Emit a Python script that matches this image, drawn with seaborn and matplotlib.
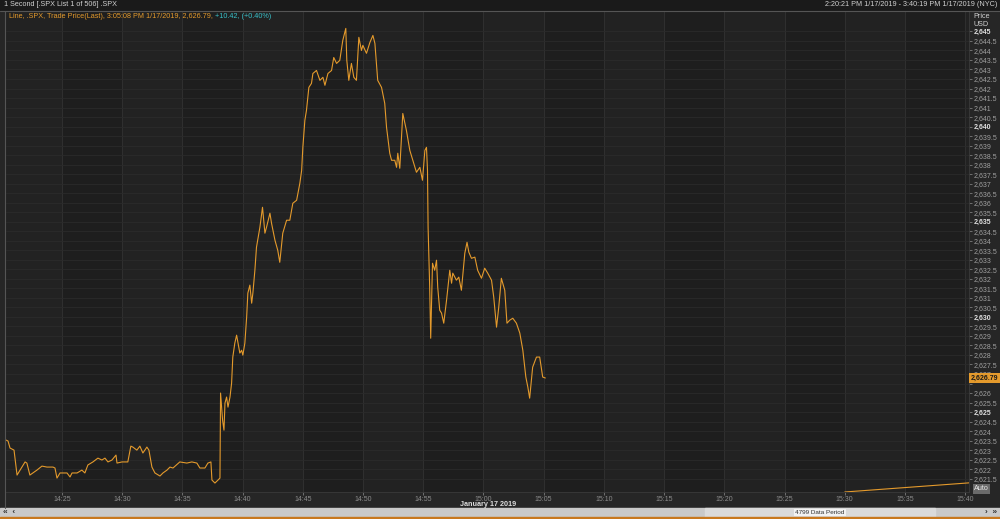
import numpy as np
import pandas as pd
import matplotlib
matplotlib.use("Agg")
import matplotlib.pyplot as plt
import matplotlib.dates as mdates
from matplotlib.patches import Rectangle
from matplotlib.ticker import FixedLocator, FuncFormatter
import seaborn as sns

# .SPX trade price, seconds after 14:20:00 on 1/17/2019
secs = [21, 31, 41, 61, 76, 91, 116, 125, 140, 155, 175, 200, 225, 255, 265, 275, 290, 325, 340, 350,
        375, 399, 414, 429, 454, 479, 499, 514, 529, 549, 569, 574, 599, 628, 643, 653, 673, 688, 703, 723,
        733, 748, 763, 788, 803, 823, 838, 853, 887, 922, 947, 972, 987, 1012, 1027, 1042, 1047, 1062, 1077, 1087,
        1090, 1100, 1107, 1112, 1120, 1127, 1137, 1145, 1151, 1161, 1170, 1186, 1195, 1201, 1211, 1220, 1226, 1236, 1245, 1251,
        1261, 1269, 1286, 1299, 1311, 1319, 1336, 1344, 1361, 1375, 1385, 1400, 1419, 1435, 1450, 1469, 1485, 1494, 1500, 1510,
        1518, 1530, 1543, 1550, 1568, 1585, 1600, 1610, 1625, 1643, 1654, 1668, 1684, 1699, 1714, 1719, 1729, 1742, 1754, 1767,
        1779, 1792, 1799, 1817, 1834, 1849, 1859, 1873, 1892, 1908, 1917, 1933, 1942, 1958, 1967, 1973, 1983, 1998, 2016, 2033,
        2048, 2066, 2083, 2096, 2108, 2116, 2121, 2124, 2132, 2137, 2146, 2157, 2166, 2172, 2182, 2191, 2202, 2216, 2232, 2241,
        2247, 2265, 2277, 2290, 2307, 2318, 2327, 2340, 2357, 2371, 2390, 2406, 2421, 2440, 2451, 2465, 2476, 2489, 2506, 2517,
        2531, 2546, 2564, 2581, 2596, 2611, 2621, 2630, 2645, 2664, 2680, 2695, 2708]
price = [2623.53, 2623.48, 2623.11, 2623.00, 2621.69, 2621.95, 2622.38, 2622.32, 2621.69, 2621.80,
         2621.95, 2622.16, 2622.11, 2622.11, 2622.06, 2621.53, 2621.80, 2621.80, 2621.59, 2621.80,
         2621.80, 2621.95, 2621.80, 2622.22, 2622.38, 2622.58, 2622.48, 2622.58, 2622.38, 2622.48,
         2622.74, 2622.32, 2622.38, 2622.38, 2623.21, 2623.16, 2623.00, 2623.21, 2622.85, 2623.16,
         2623.00, 2622.11, 2621.80, 2621.64, 2621.80, 2621.95, 2622.11, 2622.06, 2622.38, 2622.32,
         2622.38, 2622.32, 2622.06, 2622.06, 2622.32, 2622.38, 2621.43, 2621.27, 2621.43, 2621.53,
         2626.00, 2624.58, 2624.05, 2625.47, 2625.79, 2625.26, 2625.79, 2626.52, 2627.89, 2628.62,
         2629.04, 2628.10, 2628.25, 2627.99, 2628.62, 2629.99, 2631.25, 2631.67, 2630.72, 2631.25,
         2632.45, 2633.66, 2634.71, 2635.76, 2634.40, 2634.71, 2635.45, 2634.92, 2634.03, 2633.50,
         2632.87, 2634.40, 2635.08, 2635.08, 2635.97, 2636.13, 2637.02, 2637.70, 2638.91, 2640.33,
         2640.85, 2642.06, 2642.27, 2642.79, 2642.95, 2642.43, 2642.59, 2642.17, 2642.79, 2642.95,
         2643.63, 2643.32, 2643.48, 2644.53, 2645.16, 2643.48, 2642.43, 2643.32, 2642.59, 2642.43,
         2644.69, 2644.00, 2644.27, 2643.85, 2644.42, 2644.79, 2644.37, 2642.43, 2642.06, 2641.22,
         2639.96, 2638.60, 2638.23, 2638.23, 2637.86, 2638.60, 2637.81, 2640.69, 2639.80, 2638.75,
         2638.23, 2637.60, 2637.86, 2637.18, 2638.75, 2638.91, 2637.70, 2634.71, 2631.56, 2628.88,
         2632.82, 2632.45, 2632.98, 2631.56, 2630.35, 2630.20, 2629.67, 2630.88, 2632.45, 2631.77,
         2632.30, 2631.93, 2632.09, 2631.40, 2633.35, 2633.92, 2633.40, 2633.08, 2633.14, 2632.45,
         2632.03, 2632.56, 2632.30, 2631.93, 2631.04, 2629.46, 2630.51, 2632.03, 2631.40, 2629.67,
         2629.83, 2629.93, 2629.67, 2629.15, 2628.25, 2626.84, 2626.31, 2625.73, 2627.36, 2627.89,
         2627.89, 2626.84, 2626.79]

# late segment drawn along the bottom edge
tail_secs = [4200, 4819]
tail_price = [2620.80, 2621.28]

y_ticks = np.arange(2621.5, 2645.01, 0.5)
last_price = 2626.79
legend_main = "Line, .SPX, Trade Price(Last), 3:05:08 PM 1/17/2019, 2,626.79, "
legend_chg = "+10.42, (+0.40%)"
title_left = "1 Second [.SPX List 1 of 506] .SPX"
title_right = "2:20:21 PM 1/17/2019 - 3:40:19 PM 1/17/2019 (NYC)"

base = pd.Timestamp("2019-01-17 14:20:00")
df = pd.DataFrame({"time": base + pd.to_timedelta(secs, unit="s"), "price": price})
tail = pd.DataFrame({"time": base + pd.to_timedelta(tail_secs, unit="s"), "price": tail_price})

bg = "#1e1e1e"
line_col = "#e49a2c"

sns.set_theme(style="dark", rc={"axes.facecolor": bg, "figure.facecolor": "#262626",
                                "axes.edgecolor": "#3a3a3a"})
plt.rcParams['font.family'] = ['Liberation Sans', 'DejaVu Sans']

W, H = 1000, 519
fig = plt.figure(figsize=(W / 100, H / 100), dpi=100)

def fx(px):
    return px / W

def fy(py):
    return 1 - py / H

# frame pieces
fig.patches.append(Rectangle((0, fy(10)), 1, fy(0) - fy(10), transform=fig.transFigure,
                             color="#1a1a1a", zorder=0))
fig.patches.append(Rectangle((0, fy(517)), 1, fy(508) - fy(517), transform=fig.transFigure,
                             color="#c9c9c9", zorder=0))
fig.patches.append(Rectangle((fx(705), fy(517)), fx(230), fy(508) - fy(517), transform=fig.transFigure,
                             color="#dadada", zorder=0))
fig.patches.append(Rectangle((0, 0), 1, fy(517), transform=fig.transFigure,
                             color="#c8781e", zorder=0))
fig.add_artist(plt.Line2D([0, 1], [fy(10.5), fy(10.5)], color="#555555", lw=0.8))
fig.add_artist(plt.Line2D([fx(5), fx(5)], [fy(508), fy(10.5)], color="#555555", lw=0.8))

ax = fig.add_axes([fx(6), fy(492), fx(969 - 6), fy(10.5) - fy(492)])

t0 = base + pd.Timedelta(seconds=21)
t1 = base + pd.Timedelta(seconds=4819)
# alternating 5-minute bands
edges = pd.date_range("2019-01-17 14:20", "2019-01-17 15:45", freq="5min")
for i in range(len(edges) - 1):
    if i % 2 == 0:
        ax.axvspan(edges[i], edges[i + 1], color="#222222", lw=0, zorder=0)

sns.lineplot(data=df, x="time", y="price", ax=ax, color=line_col, linewidth=0.8, zorder=3)
sns.lineplot(data=tail, x="time", y="price", ax=ax, color=line_col, linewidth=0.8, zorder=3)

ax.set_xlim(t0, t1)
ax.set_ylim(2620.80, 2646.10)
ax.set_xlabel("")
ax.set_ylabel("")

ax.xaxis.set_major_locator(mdates.MinuteLocator(byminute=range(0, 60, 5)))
ax.xaxis.set_major_formatter(mdates.DateFormatter("%H:%M"))
ax.yaxis.tick_right()
ax.yaxis.set_major_locator(FixedLocator(y_ticks))
ax.yaxis.set_major_formatter(FuncFormatter(lambda v, p: f"{v:,.0f}" if v % 1 == 0 else f"{v:,.1f}"))
ax.tick_params(axis="x", colors="#8c8c8c", labelsize=5, length=2, width=0.5, pad=1, bottom=True)
ax.tick_params(axis="y", colors="#8c8c8c", labelsize=5, length=2.5, width=0.5, pad=0.8, right=True, left=False)
for lab, v in zip(ax.get_yticklabels(), y_ticks):
    lab.set_color("#a0a0a0")
    if v % 5 == 0:
        lab.set_fontweight("bold")
        lab.set_color("#e0e0e0")
    if v == 2626.5:
        # hidden behind the last-price tag
        lab.set_visible(False)

ax.grid(axis="y", color="#2b2b2b", lw=0.6)
ax.grid(axis="x", color="#303030", lw=0.7)
for s in ["top", "left"]:
    ax.spines[s].set_visible(False)
ax.spines["right"].set_color("#3a3a3a")
ax.spines["bottom"].set_color("#3a3a3a")
ax.spines["right"].set_linewidth(0.6)
ax.spines["bottom"].set_linewidth(0.6)

# last price tag
ax.annotate(f"{last_price:,.2f}", xy=(1.0, last_price), xycoords=("axes fraction", "data"),
            xytext=(1.2, 0), textcoords="offset points", va="center", ha="left",
            fontsize=5, fontweight="bold", color="#1a1a1a",
            bbox=dict(boxstyle="square,pad=0.25", fc=line_col, ec="none"), annotation_clip=False, zorder=5)

# texts
fs = 5.2
fig.text(fx(4), fy(5), title_left, fontsize=fs, color="#d0d0d0", va="center", ha="left")
fig.text(fx(997), fy(5), title_right, fontsize=fs, color="#d0d0d0", va="center", ha="right")
t = fig.text(fx(9), fy(16), legend_main, fontsize=fs, color=line_col, va="center", ha="left")
fig.canvas.draw()
bb = t.get_window_extent()
fig.text(bb.x1 / W, fy(16), legend_chg, fontsize=fs, color="#38c0c8", va="center", ha="left")
fig.text(fx(973), fy(16), "Price", fontsize=fs, color="#d0d0d0", va="center", ha="left")
fig.text(fx(973), fy(24), "USD", fontsize=fs, color="#d0d0d0", va="center", ha="left")
fig.text(fx(974), fy(489), "Auto", fontsize=fs, color="#e8e8e8", va="center", ha="left",
         bbox=dict(boxstyle="square,pad=0.2", fc="#6a6a6a", ec="none"))
fig.text(fx(488), fy(505), "January 17 2019", fontsize=fs, color="#dcdcdc", fontweight="bold",
         va="center", ha="center")
fig.text(fx(820), fy(512.5), "4799 Data Period", fontsize=4.6, color="#333333", va="center", ha="center",
         bbox=dict(boxstyle="square,pad=0.15", fc="#f2f2f2", ec="none"))
fig.text(fx(3), fy(512.5), "\u00ab  \u2039", fontsize=6, color="#333333", va="center", ha="left", fontweight="bold")
fig.text(fx(997), fy(512.5), "\u203a  \u00bb", fontsize=6, color="#333333", va="center", ha="right", fontweight="bold")

fig.savefig("out.png", dpi=100, facecolor=fig.get_facecolor())
